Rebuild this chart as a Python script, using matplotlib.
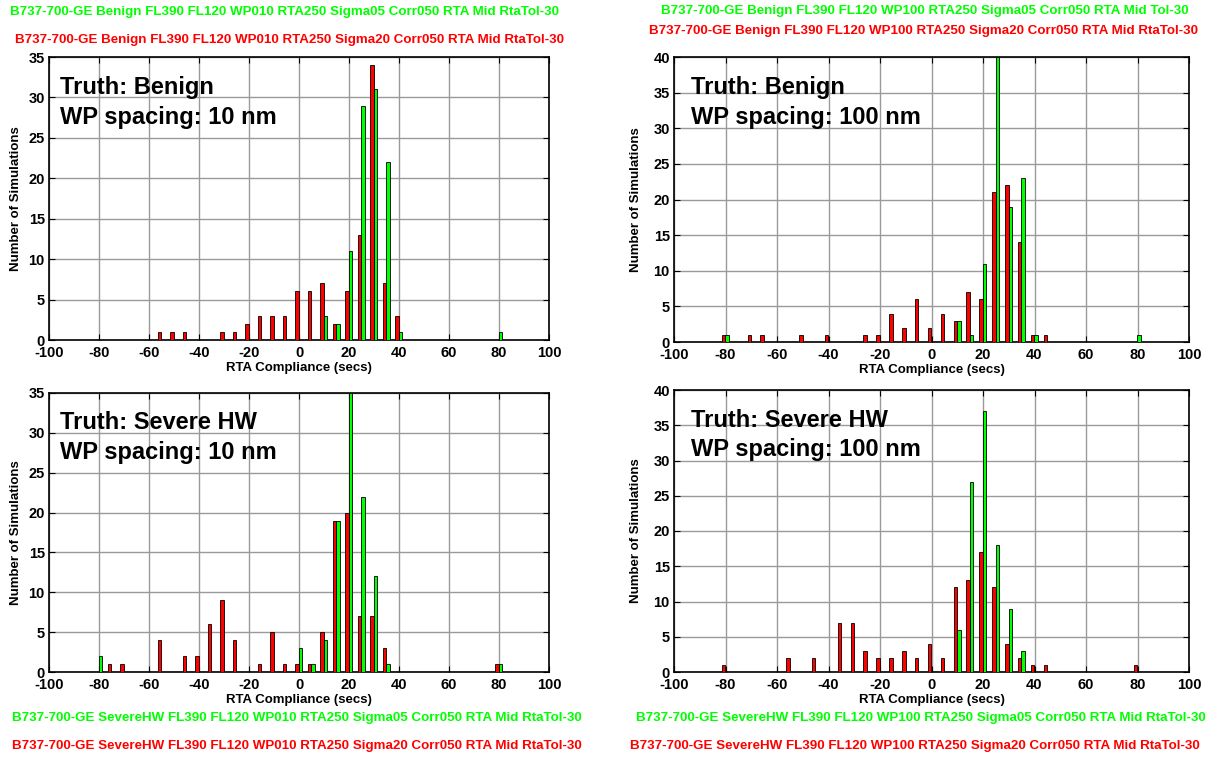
import matplotlib
matplotlib.use('Agg')
import matplotlib.pyplot as plt

plt.rcParams['font.family'] = 'Liberation Sans'
plt.rcParams['font.weight'] = 'bold'
plt.rcParams['axes.unicode_minus'] = False

RED = '#ff0000'
GREEN = '#00ff00'

# ── data: bin centres (secs) and counts ───────────────────────
tl_red_x = [-55, -50, -45, -30, -25, -20, -15, -10, -5, 0, 5, 10, 15, 20, 25, 30, 35, 40]
tl_red_y = [1, 1, 1, 1, 1, 2, 3, 3, 3, 6, 6, 7, 2, 6, 13, 34, 7, 3]
tl_grn_x = [10, 15, 20, 25, 30, 35, 40, 80]
tl_grn_y = [3, 2, 11, 29, 31, 22, 1, 1]

tr_red_x = [-80, -70, -65, -50, -40, -25, -20, -15, -10, -5, 0, 5, 10, 15, 20, 25, 30, 35, 40, 45]
tr_red_y = [1, 1, 1, 1, 1, 1, 1, 4, 2, 6, 2, 4, 3, 7, 6, 21, 22, 14, 1, 1]
tr_grn_x = [-80, 10, 15, 20, 25, 30, 35, 40, 80]
tr_grn_y = [1, 3, 1, 11, 40, 19, 23, 1, 1]

bl_red_x = [-75, -70, -55, -45, -40, -35, -30, -25, -15, -10, -5, 0, 5, 10, 15, 20, 25, 30, 35, 80]
bl_red_y = [1, 1, 4, 2, 2, 6, 9, 4, 1, 5, 1, 1, 1, 5, 19, 20, 7, 7, 3, 1]
bl_grn_x = [-80, 0, 5, 10, 15, 20, 25, 30, 35, 80]
bl_grn_y = [2, 3, 1, 4, 19, 35, 22, 12, 1, 1]

br_red_x = [-80, -55, -45, -35, -30, -25, -20, -15, -10, -5, 0, 5, 10, 15, 20, 25, 30, 35, 40, 45, 80]
br_red_y = [1, 2, 2, 7, 7, 3, 2, 2, 3, 2, 4, 2, 12, 13, 17, 12, 4, 2, 1, 1, 1]
br_grn_x = [10, 15, 20, 25, 30, 35]
br_grn_y = [6, 27, 37, 18, 9, 3]

W, H = 1227, 757
fig = plt.figure(figsize=(W / 100, H / 100), dpi=100)
fig.patch.set_facecolor('white')


def px_axes(x0, x1, ytop, ybot):
    return fig.add_axes([x0 / W, (H - ybot) / H, (x1 - x0) / W, (ybot - ytop) / H])


def panel(ax, rx, ry, gx, gy, ymax, truth, spacing, tx, ylpad):
    ax.bar([x - 0.75 for x in rx], ry, width=1.35, color=RED,
           edgecolor='black', linewidth=0.6, zorder=3)
    ax.bar([x + 0.6 for x in gx], gy, width=1.35, color=GREEN,
           edgecolor='black', linewidth=0.6, zorder=3)
    ax.set_xlim(-100, 100)
    ax.set_ylim(0, ymax)
    ax.set_xticks(range(-100, 101, 20))
    ax.set_yticks(range(0, ymax + 1, 5))
    ax.grid(True, color='#9a9a9a', lw=1.0, zorder=0)
    ax.set_axisbelow(True)
    ax.tick_params(direction='in', top=True, right=True, length=4,
                   labelsize=10.5)
    ax.tick_params(axis='x', pad=4.5)
    ax.tick_params(axis='y', pad=3)
    for lab in ax.get_xticklabels() + ax.get_yticklabels():
        lab.set_fontweight('bold')
    for s in ax.spines.values():
        s.set_linewidth(1.2)
    ax.set_xlabel('RTA Compliance (secs)', fontsize=9.5, fontweight='bold', labelpad=1.5)
    ax.set_ylabel('Number of Simulations', fontsize=9.5, fontweight='bold', labelpad=ylpad)
    ax.text(tx, 0.87, 'Truth: ' + truth, transform=ax.transAxes,
            fontsize=17, fontweight='bold', ha='left', va='baseline', zorder=5)
    ax.text(tx, 0.765, 'WP spacing: ' + spacing, transform=ax.transAxes,
            fontsize=17, fontweight='bold', ha='left', va='baseline', zorder=5)


ax1 = px_axes(49, 549, 57, 340)
panel(ax1, tl_red_x, tl_red_y, tl_grn_x, tl_grn_y, 35, 'Benign', '10 nm', 0.022, 5)
ax2 = px_axes(674, 1189, 57, 342)
panel(ax2, tr_red_x, tr_red_y, tr_grn_x, tr_grn_y, 40, 'Benign', '100 nm', 0.033, 8)
ax3 = px_axes(49, 549, 393, 672)
panel(ax3, bl_red_x, bl_red_y, bl_grn_x, bl_grn_y, 35, 'Severe HW', '10 nm', 0.022, 5)
ax4 = px_axes(674, 1189, 390, 672)
panel(ax4, br_red_x, br_red_y, br_grn_x, br_grn_y, 40, 'Severe HW', '100 nm', 0.033, 8)

# ── run captions ──────────────────────────────────────────────
def caption(x, y, s, c):
    fig.text(x / W, (H - y) / H, s, color=c, fontsize=9.6, fontweight='bold',
             ha='left', va='center')

caption(10, 12, 'B737-700-GE Benign FL390 FL120 WP010 RTA250 Sigma05 Corr050 RTA Mid RtaTol-30', GREEN)
caption(15, 40, 'B737-700-GE Benign FL390 FL120 WP010 RTA250 Sigma20 Corr050 RTA Mid RtaTol-30', RED)
caption(661, 11, 'B737-700-GE Benign FL390 FL120 WP100 RTA250 Sigma05 Corr050 RTA Mid Tol-30', GREEN)
caption(649, 31, 'B737-700-GE Benign FL390 FL120 WP100 RTA250 Sigma20 Corr050 RTA Mid RtaTol-30', RED)
caption(12, 718, 'B737-700-GE SevereHW FL390 FL120 WP010 RTA250 Sigma05 Corr050 RTA Mid RtaTol-30', GREEN)
caption(12, 746, 'B737-700-GE SevereHW FL390 FL120 WP010 RTA250 Sigma20 Corr050 RTA Mid RtaTol-30', RED)
caption(636, 718, 'B737-700-GE SevereHW FL390 FL120 WP100 RTA250 Sigma05 Corr050 RTA Mid RtaTol-30', GREEN)
caption(630, 746, 'B737-700-GE SevereHW FL390 FL120 WP100 RTA250 Sigma20 Corr050 RTA Mid RtaTol-30', RED)

plt.savefig('out.png', dpi=100, facecolor='white')
